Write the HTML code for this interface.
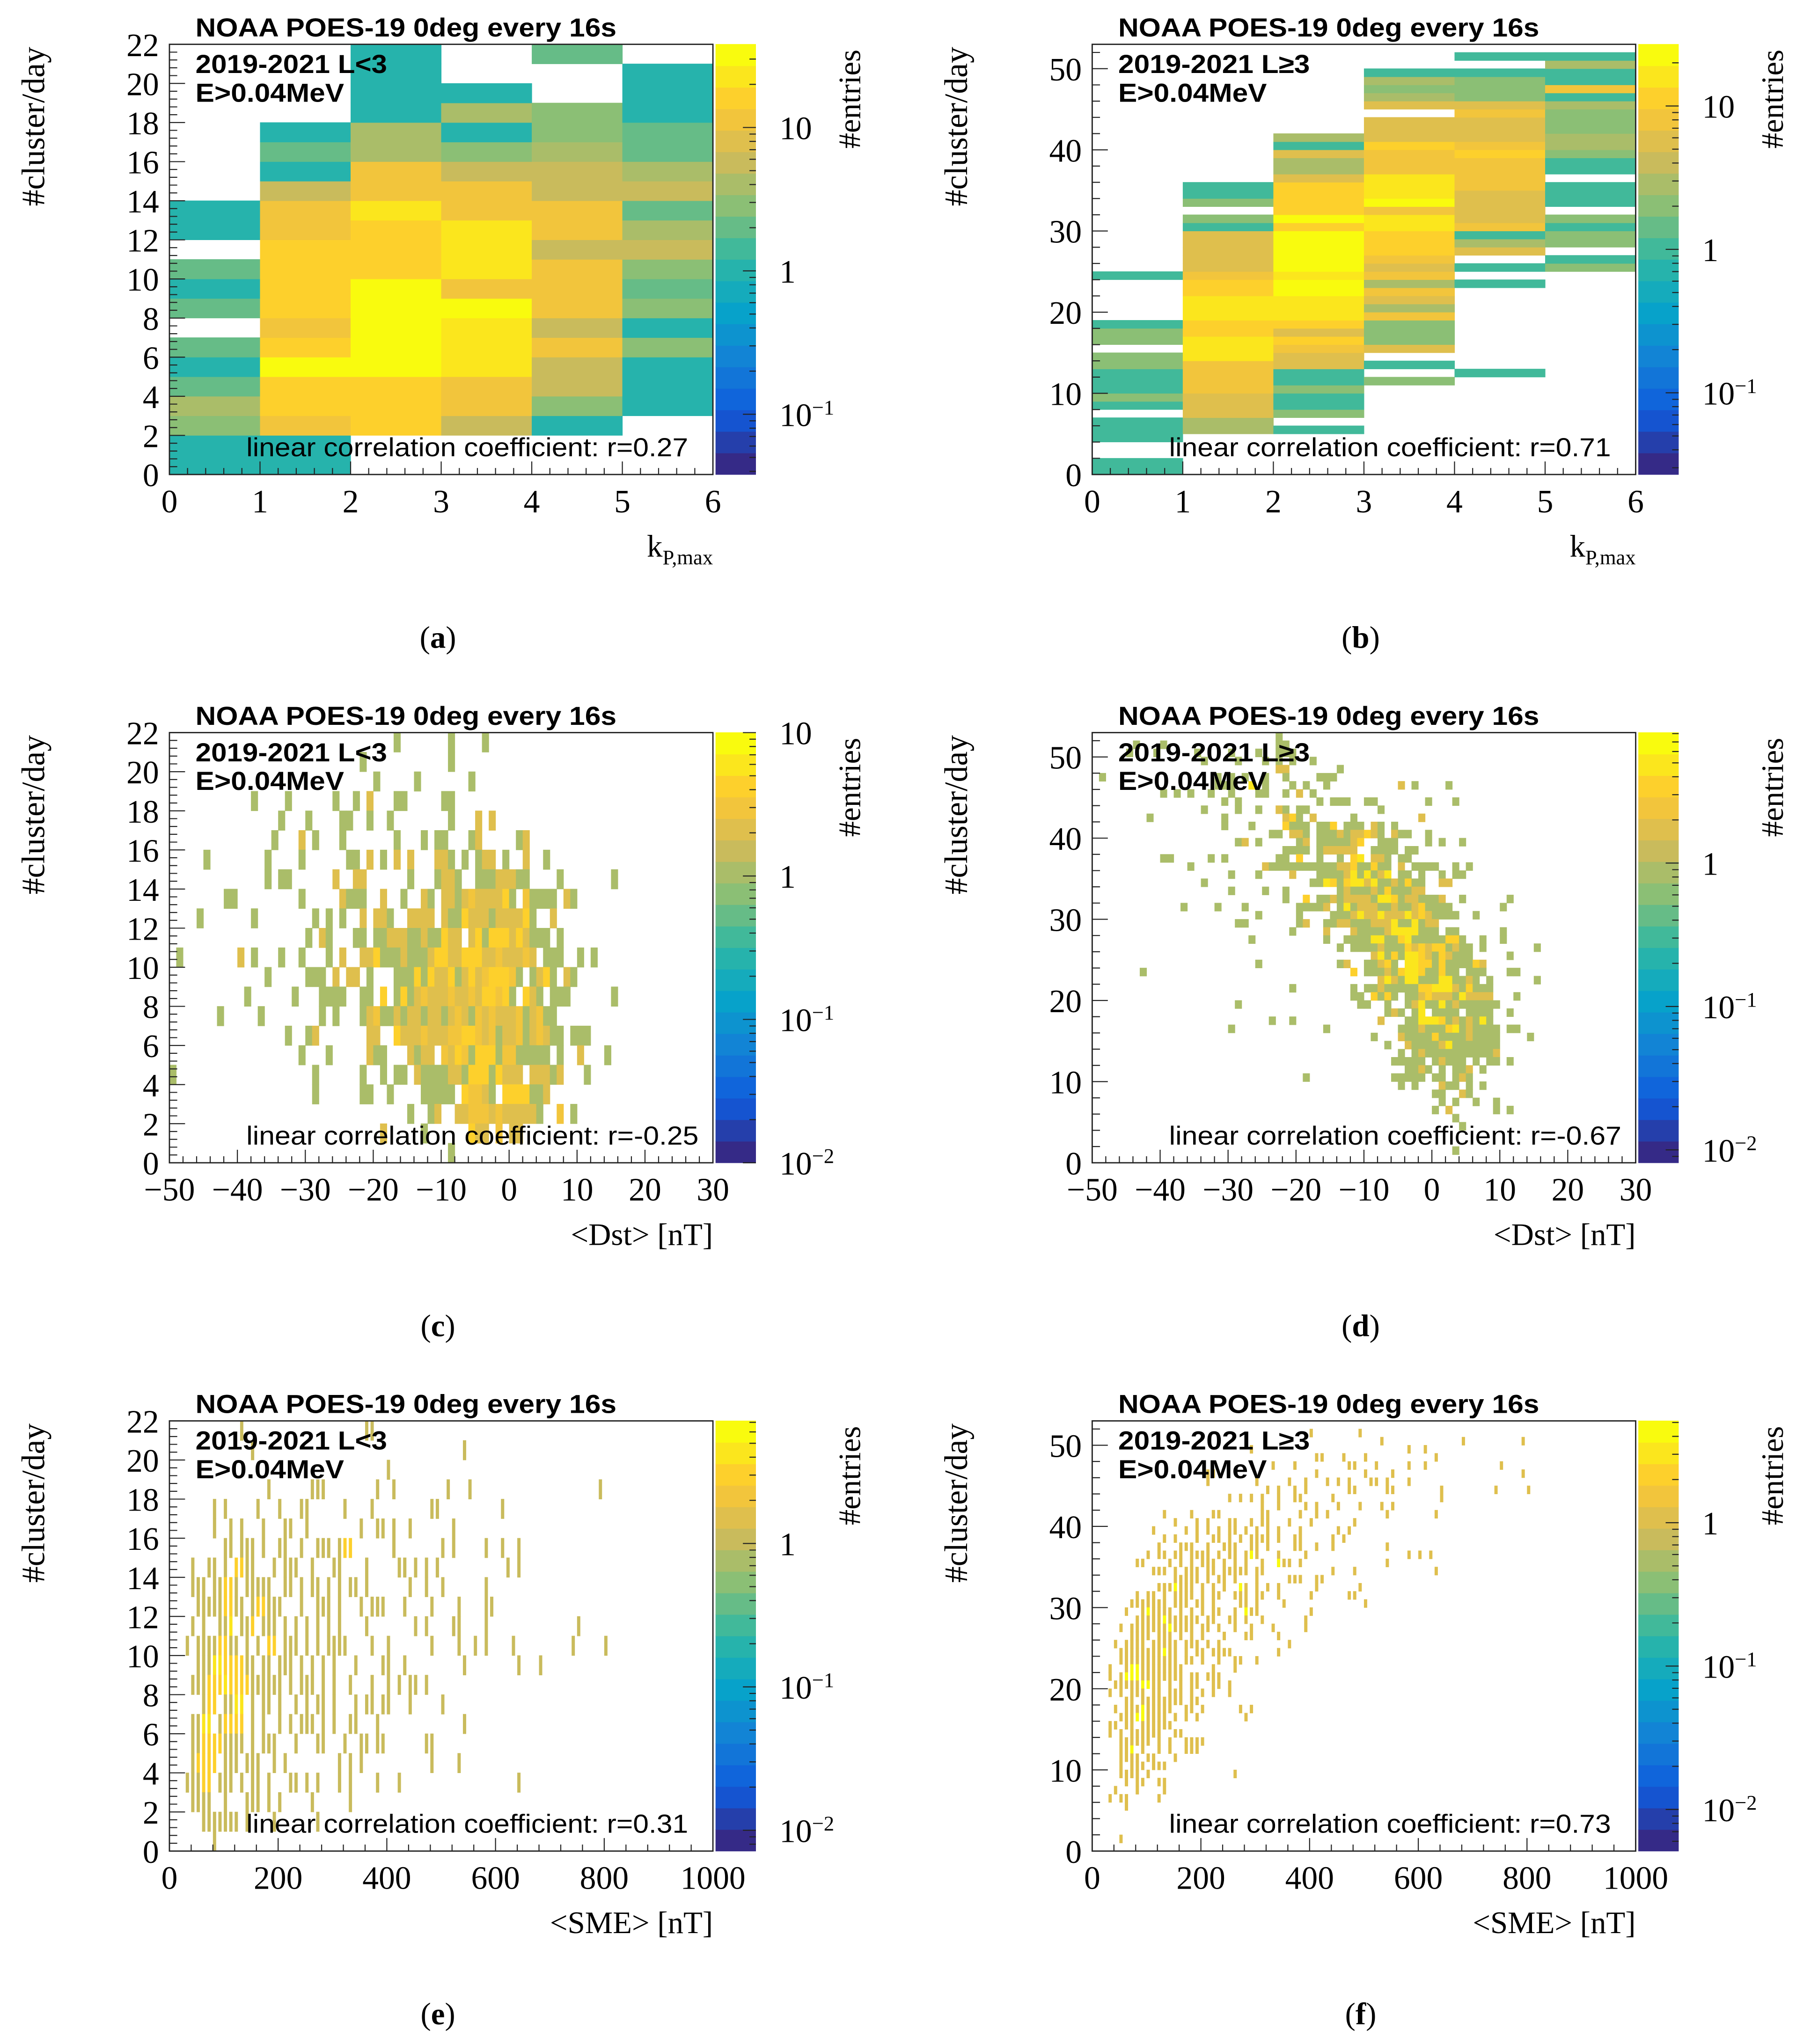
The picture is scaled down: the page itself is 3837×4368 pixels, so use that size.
<!DOCTYPE html>
<html><head><meta charset="utf-8"><style>
html,body{margin:0;padding:0;background:#fff;}
svg{display:block;}
</style></head><body>
<svg id="fig" xmlns="http://www.w3.org/2000/svg" width="3837" height="4368" viewBox="0 0 1378 1568" preserveAspectRatio="none"></svg>
<script>
// ---------- DATA ----------
// panel (a): counts per kp column (bottom->top, y bins of 1)
const aCol0 = [1,1,3,4,2,1,2,0,2,1,2,0,1,1,0,0,0,0,0,0,0,0];
const aCol1 = [1,1,10,18,18,28,18,10,18,18,18,14,10,10,6,1,2,1,0,0,0,0];
const aCol2 = [0,0,18,14,18,30,30,30,30,30,18,18,14,20,10,10,4,4,1,1,1,1];
const aCol3 = [0,0,6,10,10,20,20,20,30,12,20,20,20,12,10,6,3,1,4,1,0,0];
const aCol4 = [0,0,1,3,6,6,10,6,10,10,10,6,10,10,6,5,4,3,3,0,0,2];
const aCol5 = [0,0,0,1,1,1,3,1,3,2,3,6,4,2,6,4,2,2,1,1,1,0];
// panel (b): runs "yFrom-yTo:count" per kp column
const bCol0 = "0-1:1 4-6:1 8:1 9:2 10-12:1 13-14:2 16-17:2 18:1 24:1";
const bCol1 = "5-6:3 7:5 8-9:6 10-13:8 14-16:16 17-18:12 19-21:16 22:10 23:12 24:8 25-26:6 27-28:5 29:6 30:1 31:2 33:2 34-35:1";
const bCol2 = "5:1 7:2 8-9:1 10:2 11-12:1 13-14:5 15:8 16:12 17:6 18:10 19-21:16 22-23:25 24:16 25-29:25 30:10 31:25 32:10 33-35:12 36:6 37-38:3 39:6 40:1 41:3";
const bCol3 = "11:2 13:1 15:6 16-18:2 19:8 20:3 21:5 22:8 23:3 24:8 25:6 26:8 27-29:12 30-31:16 32:8 33:25 34-36:16 37-39:8 40:12 41:6 42-43:5 45:6 46:3 47:2 48:3 49:1";
const bCol4 = "12:1 23:1 25:1 27:5 28:3 29:1 30:8 31-32:5 33:6 34:5 35-38:8 39:12 40:8 41:6 42:5 43:6 44:8 45:6 46-48:2 49:1 51:1";
const bCol5 = "25:2 26:1 28-29:2 30:1 31:2 33-35:1 37-38:1 39:2 40-41:3 42-44:2 45:3 46:1 47:8 48-49:1 50:3 51:1";
// scatter heatmaps: "y|bin tokens" ; plain=1, g=2, o=3, y=5
const cRows = ["21|33 41 46","20|28 41","19|30 36 44","18|12 17 24 27 29g 33-34 40-41","17|16 20 25-26 29 32 41 45g 47g",
"16|15 19g 21 25 33 37 39-40 44 45g 51 52g","15|5 14 19 26-27 29g 31 33g 35g 39-40g 41 43 45 46-47g 49 52g 55",
"14|14 16-17 24g 27-28g 35 39 40-41g 42 45-46 47 48-50g 51-52 57 65",
"13|8-9 19 25g 26-28 31g 34 37g 38 40-41g 42 43g 44o 45-48g 49y 50 52o 53 54-56 58g 59",
"12|4 12 21 23 25 28g 30-31g 32 35-38g 40g 41-42 43y 44-46g 47 48-51g 52y 53 56g",
"11|20 22g 23 27-28 30-31 32-34g 35-36 37g 38-39 40y 41-42g 44g 45y 46 47-49y 50g 51y 52g 53-55 57",
"10|1 10g 12 16 19 23 25g 28-29g 30y 31-33 34g 35-37 38g 39-40y 41-42g 43-45y 46-47g 48o 49-51g 52o 53g 55-57 60 62",
"9|14 20-22 24g 26-27g 29 33-35 36y 37 38y 39-40g 41y 42 43g 44y 45g 46o 47-49y 50o 51 53 54g 55y 56 58g 59",
"8|11 18 22-25 28-29 31y 33 34y 35 36g 37o 38-40g 41o 42-43g 44o 45g 46-47y 48o 49y 50 52y 53g 54 56-58 65",
"7|7 13 22 24 28 29g 30o 31-32 33g 34 35-36g 37 38-39g 40 41g 42o 43g 44 45o 46g 47o 48-50g 51o 52 53g 54o 55-56",
"6|17 20 21g 29-30g 33y 34-36g 37o 38-40g 41-42o 43-44y 45o 46g 47o 48 49-50g 51o 52 53g 54o 55g 56-57 59-61",
"5|19 23 29g 30-31 35g 36 37-38g 40o 41g 42y 43o 44 45-47y 48 49-50o 51-55 57 60g 64",
"4|0 21 28 31 33-34 36g 37-40 41-42g 43 44-46y 47 48y 49-51g 53-55g 56 57g 61",
"3|21 28-29 32 37-41 43y 44-45o 46g 47 49-52y 53-54 55g","2|35 38 39g 42-43g 44-46o 47g 48o 49-53g 54 57o 59",
"1|31g 37 44y 45-46g 48o 50-51g","0|41"];
const dRows = ["52|27","51|6 10 27-28","50|5 9 15 20 24 27-29","49|16 21 25 27 29 32","48|27-28g 36","47|1 18 20 22 25 28 33-35",
"46|18-20 23y 25 29 31 34 45g 47 52","45|10 12 14 17 20 24-25 28 30g 32","44|19 21 33 35-37 40-41 49 53","43|16 21 24 27g 28 30-31 42",
"42|8 19 28g 29o 30 32g 38 48g","41|19 23 28o 29-31 33-34 35o 37-39 41g 42 44","40|26-27 29-30g 31 33-35 36g 37 38-39g 40o 41g 42 44g 45-46 49",
"39|21 22g 24 30 31g 33-37 38g 39o 42-44 49 51 54","38|28-31 33 34-38g 41-44 46-47","37|10-11 17 19 27-28 30o 33 36 38o 39y 41-42g 43 45-46",
"36|14 25g 26-35 36-37g 38o 39-40 41o 42-43 45g 47-50 53 55","35|20 24 29g 33-36 37g 38y 39 40y 41 42g 43y 45-46 48 51 53-54",
"34|16 32-33 34y 35o 36 37o 38-39y 40g 41y 42-43 44g 45 46o 47-48 51-52g","33|20 25 28 36 37g 38-40 41g 42 43o 44-46 47-48g",
"32|28 31o 33-34 35g 36 37-40g 41 42-43y 44o 45 46-47g 48-50 51g 54 61","31|13 18 22 30-33 34g 36 37y 38 39-41g 42-43 44g 45-46 47g 48o 49-52 60",
"30|24 30 35-37 38g 39y 40-41g 42y 43-45g 46y 47g 48o 49g 50-53 56","29|21-22 30 31g 34-35 36-37g 38-40 41-43g 44y 45-46 47y 48 49-50g",
"28|29 34g 38g 39-42 43g 44-47y 48-50 52-53 60","27|23 34 37-40 41-42y 43-44 45o 46y 47-51 52-53o 54 57 60",
"26|36 38-41 42g 43-45 46o 47g 48o 49g 50-51o 52 53g 54-55 57 65","25|41g 42y 43 44o 45 46-47y 48o 49g 50 51o 52g 53-55 61",
"24|24 36 37g 40-41 42g 43o 44 46-47y 48-49o 50 51o 52-55 56o 57g","23|7 38o 40-42 43g 44 45o 46-47y 48o 49-50 51o 52-53 55-57 61-62",
"22|42g 43y 44g 45 46-47y 48-50 51-52y 53-54 55g 56 58 65","21|29 38 40-41 42g 43-47 48-49o 50-52y 53g 54 55o 56-58",
"20|38-39 41o 42 43o 44 46-47 48g 49o 50-52g 53 54y 55-58g 62","19|21 39-40 43 46 47g 48y 49-50 51y 52 53g 54-59",
"18|43 44g 45 47 48y 50-53 55-58 61","17|26 29 42g 46-47 48-50y 51o 52 53g 54 55g 56 57y 58",
"16|20 34 45-47 48g 49-51 52o 53y 54 55g 56-59 61-62","15|41 45g 46-49 50o 51-54 55g 56-59 64","14|43 46g 47-50 51g 52y 53-59",
"13|45 47 48g 49-58 59g","12|44-48 50 51g 52-54 56 58-59 61","11|46-47 48g 49 51 53-54 55g 57","10|31 44-48 50-51 53 54g 55",
"9|45 47 51g 52-53 55 57","8|50-51 54g 55","7|51 53 56 59","6|50 52g 59 61","5|53","4|54","1|53"];
const eRows = ["21|13 36-37","20|15 54","19|40","18|18 26-28 38 41 51 55 79","17|8 10 16 20 24-25 32 37 48-49 61",
"16|8 11 13 17 21-22 25 35 38-39 41 44 52","15|10-11 13-15 17 20-21 24 27-29 31 32-33o 41 50 52 58 61 64",
"14|4 7-8 10 12-13o 14-15 19 21-22 23 26 30-31 36 42-43 45 47 49 62 64",
"13|4-5 6 8-9 10-11o 12 14 15-16 17-18 21-22 24 26-27 29 31 33-34 36 44 47 50 58",
"12|5-9 10-11o 12-13 15 16-17o 18-20 24 27-29 31 35 37-39 43 48 53 58-59",
"11|4 6 9-10 11y 13-14 15o 17-19 21 23 25 27 29 31 36 45 47 52-53 58 75",
"10|3 5-8 9-10o 11-12 14 16 18-19o 21 22-23 25 27 29-30 31-32 37 40 48 53 56 58 63 74 80",
"9|5 6-7 8-9y 10-13o 14-15 17-18 20-21 22 24 26 28 30 34 39-40 43 54 64 68",
"8|4-6 7-9o 10y 11-14o 15-20 22 24 25-26 28 30 33 37 40 42 44-45 47",
"7|6 7-8o 10 11 12-13y 15 17 18 20 23 25 27-28 30 34 36-37 39-40 44 50",
"6|4-5 6-7y 9 10-13o 15 17 20 22 24 25-26 28 30 33-34 38 54",
"5|4 5 6-9o 10-11 12-13 15 17 18-19 23 27-28 32 35-36 38-39 47-48",
"4|4 5-8o 10-11 12 14 15 16 19 21 31 33 35 48 53","3|3-5 6-7o 9 10-11 13 15-16 18 22-23 25 27 31 33 38 42 64",
"2|4 5-7 10 14-16 18 20 26 33","1|6-8 9-12 14 19 27","0|8"];
const fRows = ["51|40 49","50|53 68 79","49|29 58 61","48|41-42 46 50 63","47|33 37 47-48 52 58 61 75","46|21-22 41 50 55 79",
"45|21 30 36 39 43 45 47 51-52 54 58","44|32 34 37 39 47-48 54-55 64 74 80","43|25 27 29 31 34 37-38 44 64","42|31 34 39 41 45 49 53 55",
"41|13 18 22-23 31-32 38 41 43 54 63","40|15 19 21 25-26 29 31-32 36 40 48","39|11 17 19 21 23 25-26 28 30 32 34 38 45 47",
"38|13 15 19 22-23 25 27 29 30-31 32 34 37-38 44 46","37|12 16-18 21 24-26 29-30 32 37-38 41 44 54",
"36|10 12-13 15-16 18-21 23 25-26 28 29y 30 34 39 58 60 62","35|8-9 14 16 18 20-22 24 26 28 31 34y 35-36 38 54",
"34|11-13 15 17-19 21-22 24-28 30-31 44 48 63","33|15-19 21 23-24 26 30 36-38 41-42","32|12-14 15y 16-18 20 22 24 27y 28 30 32 34 41 49",
"31|8 10-11 13 15-18 20 22-23 26-28 30-31 34 40 47-48","30|7-13 15-17 19-20 22 27-28 30 35 50","29|6 9 10y 11-14 16 18 20 22-23 26 28y 29-30 40",
"28|8-12 13y 14-19 21-22 25-26 28 31 39","27|5 7-13 14y 15-18 20-21 23 26 29 33 39","26|7-10 12-14 16 18 20 24 28-29 34",
"25|4 6-9 11-15 17-19 21 23 36","24|5-12 13y 14-15 17 19-20 22-25 34","23|5-12 13-15 17-18 20 23 26-27 30","22|3 6 7-8y 9-16 22 26",
"21|3 5 6-8y 9-16 18-19 21-23","20|4-8 9-10y 11-12 14 16 18-19 22-23 25","19|3 5 7-9 11-12 14-16 18 20 22 25","18|6-7 9-16 18-19",
"17|4 6-8 9y 10-14 17-18 20 27 29","16|5-7 8-9y 10-13 15 17 19 28","15|3-4 6-7 9-14","14|3 5 7-12 15-16","13|5-10 12 14 17-20",
"12|5-6 7y 9 12 14 17-19","11|5-8 10-11 15","10|5 7-9 11-13","9|5-8 10 26","8|6 8-9 12-13","7|4 8 13","6|3 5-6 12","5|6","1|5"];
// tick labels
const kpTicks = [0,1,2,3,4,5,6];
const dstTicks = [-50,-40,-30,-20,-10,0,10,20,30];
const smeTicks = [0,200,400,600,800,1000];
const yTicksLow = [0,2,4,6,8,10,12,14,16,18,20,22];
const yTicksHigh = [0,10,20,30,40,50];
const corrValues = ["0.27","0.71","-0.25","-0.67","0.31","0.73"];
const captionLetters = ["a","b","c","d","e","f"];

// ---------- RENDER ----------
const NS = "http://www.w3.org/2000/svg";
const svg = document.getElementById("fig");
function mk(tag, parent) { const e = document.createElementNS(NS, tag); parent.appendChild(e); return e; }
function attrs(e, o) { for (const k in o) e.setAttribute(k, o[k]); return e; }

const BS = [0, .125, .25, .375, .5, .625, .75, .875, 1];
const BR = [.2082,.0592,.0780,.0232,.1802,.5301,.8186,.9956,.9764];
const BG = [.1664,.3599,.5041,.6419,.7178,.7492,.7328,.7862,.9832];
const BB = [.5293,.8684,.8385,.7914,.6425,.4662,.3499,.1968,.0539];
function bird(t) {
  t = Math.max(0, Math.min(1, t));
  let i = 0; while (i < 7 && t > BS[i+1]) i++;
  const f = (t - BS[i]) / (BS[i+1] - BS[i]);
  const c = a => Math.round(255 * (a[i] + f * (a[i+1] - a[i])));
  return "rgb(" + c(BR) + "," + c(BG) + "," + c(BB) + ")";
}
const NB = 20;
function zcolor(v, p) {
  const fr = (Math.log10(v) - p.zl0) / (p.zl1 - p.zl0);
  let k = Math.floor(fr * NB); k = Math.max(0, Math.min(NB - 1, k));
  return bird(k / (NB - 1));
}
function parseTokens(str) {
  const out = [];
  str.trim().split(/\s+/).forEach(t => {
    const m = t.match(/^(\d+)(?:-(\d+))?([goy]?)$/);
    if (!m) return;
    const a = +m[1], b = m[2] ? +m[2] : a;
    const v = m[3] === "g" ? 2 : m[3] === "o" ? 3 : m[3] === "y" ? 5 : 1;
    for (let i = a; i <= b; i++) out.push([i, v]);
  });
  return out;
}
function parseRuns(str) {
  const out = [];
  str.trim().split(/\s+/).forEach(t => {
    const [r, v] = t.split(":"); const [a, b] = r.split("-");
    for (let i = +a; i <= +(b === undefined ? a : b); i++) out.push([i, +v]);
  });
  return out;
}

const W = 417, H = 330;
const panels = [
  {x0:130,y0:34,xmin:0,xmax:6,ymin:0,ymax:22,zl0:-1.42,zl1:1.58,xt:kpTicks,xminor:0.2,yt:yTicksLow,yminor:0.4,cb:[1,0,-1],cbx:598,title:"L<3"},
  {x0:838,y0:34,xmin:0,xmax:6,ymin:0,ymax:53,zl0:-1.57,zl1:1.43,xt:kpTicks,xminor:0.2,yt:yTicksHigh,yminor:2,cb:[1,0,-1],cbx:1306,title:"L\u22653"},
  {x0:130,y0:562,xmin:-50,xmax:30,ymin:0,ymax:22,zl0:-2,zl1:1,xt:dstTicks,xminor:2,yt:yTicksLow,yminor:0.4,cb:[1,0,-1,-2],cbx:598,title:"L<3"},
  {x0:838,y0:562,xmin:-50,xmax:30,ymin:0,ymax:53,zl0:-2.09,zl1:0.91,xt:dstTicks,xminor:2,yt:yTicksHigh,yminor:2,cb:[0,-1,-2],cbx:1306,title:"L\u22653"},
  {x0:130,y0:1090,xmin:0,xmax:1000,ymin:0,ymax:22,zl0:-2.145,zl1:0.855,xt:smeTicks,xminor:40,yt:yTicksLow,yminor:0.4,cb:[0,-1,-2],cbx:598,title:"L<3"},
  {x0:838,y0:1090,xmin:0,xmax:1000,ymin:0,ymax:53,zl0:-2.29,zl1:0.71,xt:smeTicks,xminor:40,yt:yTicksHigh,yminor:2,cb:[0,-1,-2],cbx:1306,title:"L\u22653"}
];
const cellsA = [], cellsB = [];
[aCol0,aCol1,aCol2,aCol3,aCol4,aCol5].forEach((col, i) => col.forEach((v, y) => { if (v > 0) cellsA.push([i, y, 1, 1, v]); }));
[bCol0,bCol1,bCol2,bCol3,bCol4,bCol5].forEach((s, i) => parseRuns(s).forEach(([y, v]) => cellsB.push([i, y, 1, 1, v])));
function rowsToCells(rows, xmin, bw, frac) {
  const out = [];
  rows.forEach(r => { const [y, s] = r.split("|"); parseTokens(s).forEach(([c, v]) => out.push([xmin + c * bw, +y, bw, frac, v])); });
  return out;
}
panels[0].cells = cellsA; panels[1].cells = cellsB;
panels[2].cells = rowsToCells(cRows, -50, 1, 1);
panels[3].cells = rowsToCells(dRows, -50, 1, 1);
panels[4].cells = rowsToCells(eRows, 0, 10, 0.6);
panels[5].cells = rowsToCells(fRows, 0, 10, 0.6);

const SERIF = "'Liberation Serif', serif", SANS = "'Liberation Sans', Arial, sans-serif";
function fmt(v) { return v < 0 ? "\u2212" + (-v) : "" + v; }

panels.forEach((p, pi) => {
  const g = mk("g", svg);
  
  
  const sx = v => p.x0 + (v - p.xmin) / (p.xmax - p.xmin) * W;
  const sy = v => p.y0 + H - (v - p.ymin) / (p.ymax - p.ymin) * H;
  const clipId = "clip" + pi;
  const cp = mk("clipPath", g); cp.setAttribute("id", clipId);
  attrs(mk("rect", cp), {x:p.x0, y:p.y0, width:W, height:H});
  const cg = mk("g", g); cg.setAttribute("clip-path", "url(#" + clipId + ")");
  
  
  p.cells.forEach(([x, y, bw, fr, v]) => {
    const r = mk("rect", cg);
    
    
    const x1 = sx(x), x2 = sx(x + bw), y1 = sy(y + 1), y2 = sy(y);
    attrs(r, {x:x1, y:y1 - 0.15, width:(x2 - x1) * fr + (fr === 1 ? 0.2 : 0), height:(y2 - y1) + 0.3, fill:zcolor(v, p)});
  });
  const fr = mk("rect", g);
  
  
  attrs(fr, {x:p.x0, y:p.y0, width:W, height:H, fill:"none", stroke:"#222", "stroke-width":1});
  let d = "";
  for (let v = p.xmin; v <= p.xmax + 1e-9; v += p.xminor) {
    const isMaj = p.xt.some(t => Math.abs(t - v) < 1e-6);
    d += "M" + sx(v) + " " + (p.y0 + H) + "v" + (isMaj ? -10 : -5);
  }
  for (let v = p.ymin; v <= p.ymax + 1e-9; v += p.yminor) {
    const isMaj = p.yt.some(t => Math.abs(t - v) < 1e-6);
    d += "M" + p.x0 + " " + sy(v) + "h" + (isMaj ? 12 : 6);
  }
  const tk = mk("path", g);
  
  
  attrs(tk, {d:d, stroke:"#222", "stroke-width":0.8, fill:"none"});
  p.xt.forEach(v => {
    const t = mk("text", g);
    
    
    attrs(t, {x:sx(v), y:p.y0 + H + 29, "text-anchor":"middle", "font-family":SERIF, "font-size":25});
    t.textContent = fmt(v);
  });
  p.yt.forEach(v => {
    const t = mk("text", g);
    
    
    attrs(t, {x:p.x0 - 8, y:sy(v) + 9, "text-anchor":"end", "font-family":SERIF, "font-size":25});
    t.textContent = fmt(v);
  });
  const cbg = mk("g", g);
  
  
  const cbx = p.x0 + W + 2, cbw = 31;
  for (let k = 0; k < NB; k++) {
    const r = mk("rect", cbg);
    
    
    attrs(r, {x:cbx, y:p.y0 + H - (k + 1) * H / NB - 0.2, width:cbw, height:H / NB + 0.4, fill:bird(k / (NB - 1))});
  }
  const zy = lv => p.y0 + H - (lv - p.zl0) / (p.zl1 - p.zl0) * H;
  let cd = "";
  for (let dec = Math.floor(p.zl0); dec <= Math.ceil(p.zl1); dec++) {
    for (let m = 1; m <= 9; m++) {
      const lv = dec + Math.log10(m);
      if (lv < p.zl0 || lv > p.zl1) continue;
      cd += "M" + (cbx + cbw) + " " + zy(lv) + "h" + (m === 1 ? -10 : -5);
    }
  }
  const ct = mk("path", cbg);
  
  
  attrs(ct, {d:cd, stroke:"#222", "stroke-width":0.8});
  p.cb.forEach(dec => {
    const t = mk("text", cbg);
    
    
    attrs(t, {x:p.cbx, y:zy(dec) + 9, "font-family":SERIF, "font-size":25});
    if (dec === 0) t.textContent = "1";
    else if (dec === 1) t.textContent = "10";
    else {
      const a = mk("tspan", t); a.textContent = "10";
      const b = mk("tspan", t); attrs(b, {dy:-9, "font-size":16}); b.textContent = "\u2212" + (-dec);
    }
  });
  const ent = mk("text", g);
  
  
  const ex = p.x0 + W + 113, ey = p.y0 + 42;
  attrs(ent, {x:ex, y:ey, transform:"rotate(-90 " + ex + " " + ey + ")", "text-anchor":"middle", "font-family":SERIF, "font-size":24});
  ent.textContent = "#entries";
  const yt = mk("text", g);
  
  
  const yx = p.x0 - 96, yy = p.y0 + 63;
  attrs(yt, {x:yx, y:yy, transform:"rotate(-90 " + yx + " " + yy + ")", "text-anchor":"middle", "font-family":SERIF, "font-size":25});
  yt.textContent = "#cluster/day";
  const xt = mk("text", g);
  
  
  attrs(xt, {x:p.x0 + W, y:p.y0 + H + 63, "text-anchor":"end", "font-family":SERIF, "font-size":24});
  if (pi < 2) {
    const a = mk("tspan", xt); a.textContent = "k";
    const b = mk("tspan", xt); attrs(b, {dy:6, "font-size":16}); b.textContent = "P,max";
  } else xt.textContent = pi < 4 ? "<Dst> [nT]" : "<SME> [nT]";
  const t1 = mk("text", g);
  
  
  attrs(t1, {x:p.x0 + 20, y:p.y0 - 6, "font-family":SANS, "font-weight":"bold", "font-size":20, textLength:323, lengthAdjust:"spacingAndGlyphs"});
  t1.textContent = "NOAA POES-19 0deg every 16s";
  const t2 = mk("text", g);
  
  
  attrs(t2, {x:p.x0 + 20, y:p.y0 + 22, "font-family":SANS, "font-weight":"bold", "font-size":20, textLength:147, lengthAdjust:"spacingAndGlyphs"});
  t2.textContent = "2019-2021 " + p.title;
  const t3 = mk("text", g);
  
  
  attrs(t3, {x:p.x0 + 20, y:p.y0 + 44, "font-family":SANS, "font-weight":"bold", "font-size":20, textLength:114, lengthAdjust:"spacingAndGlyphs"});
  t3.textContent = "E>0.04MeV";
  const t4 = mk("text", g);
  
  
  const cl = (pi === 2 || pi === 3) ? 347 : 339;
  attrs(t4, {x:p.x0 + 59, y:p.y0 + H - 14, "font-family":SANS, "font-size":20, textLength:cl, lengthAdjust:"spacingAndGlyphs"});
  t4.textContent = "linear correlation coefficient: r=" + corrValues[pi];
  const cap = mk("text", g);
  
  
  attrs(cap, {x:p.x0 + 206, y:p.y0 + H + 133, "text-anchor":"middle", "font-family":SERIF, "font-size":24});
  const c1 = mk("tspan", cap); c1.textContent = "(";
  const c2 = mk("tspan", cap); c2.setAttribute("font-weight", "bold"); c2.textContent = captionLetters[pi];
  const c3 = mk("tspan", cap); c3.textContent = ")";
});
</script>
</body></html>
